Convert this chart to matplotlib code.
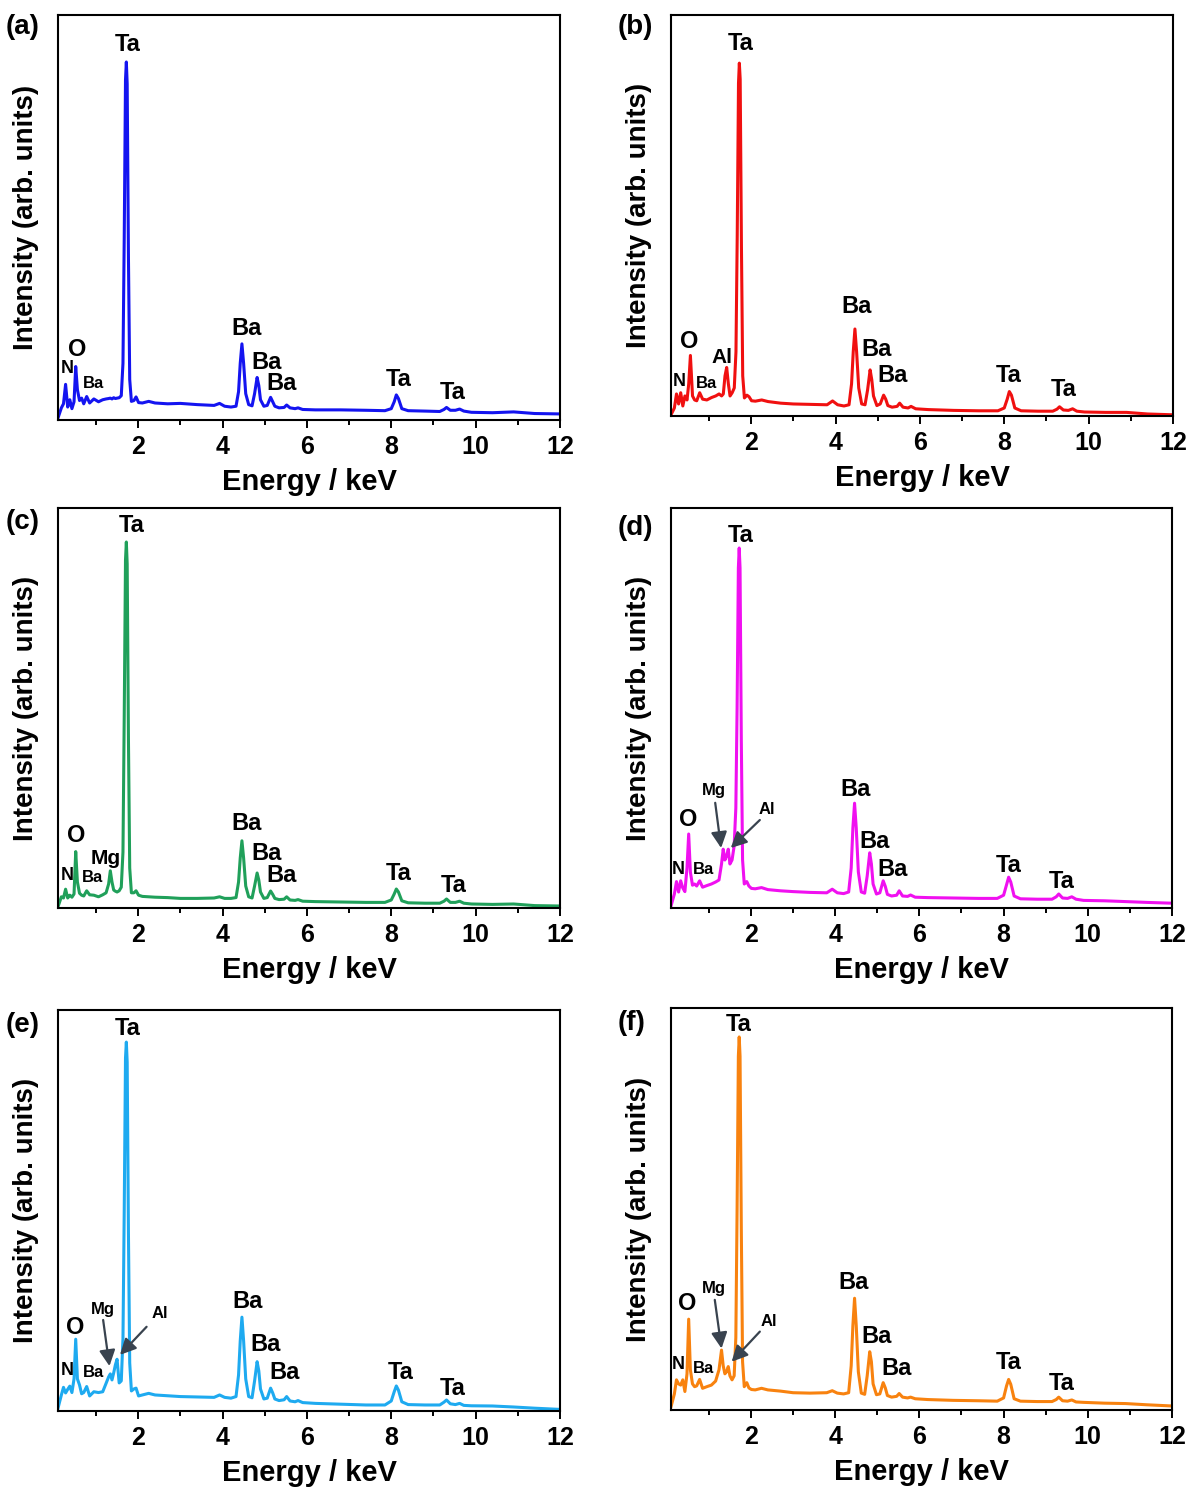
import matplotlib
matplotlib.use('Agg')
import matplotlib.pyplot as plt

plt.rcParams['font.family'] = ['Liberation Sans', 'DejaVu Sans']
plt.rcParams['font.weight'] = 'bold'

# energy grid (keV) shared by all spectra
energy = [0.10, 0.18, 0.23, 0.28, 0.33, 0.38, 0.43, 0.48, 0.52, 0.56, 0.61, 0.66, 0.71, 0.78,
          0.85, 0.95, 1.06, 1.16, 1.24, 1.30, 1.34, 1.38, 1.42, 1.46, 1.50, 1.55, 1.60, 1.64,
          1.67, 1.70, 1.72, 1.74, 1.77, 1.80, 1.84, 1.90, 1.95, 2.01, 2.10, 2.25, 2.40,
          2.70, 3.00, 3.40, 3.80, 3.93, 4.05, 4.20, 4.32, 4.38, 4.42, 4.46, 4.50, 4.55,
          4.62, 4.70, 4.76, 4.82, 4.86, 4.90, 4.98, 5.06, 5.14, 5.19, 5.24, 5.34, 5.46,
          5.52, 5.60, 5.72, 5.79, 5.90, 6.20, 6.80, 7.40, 7.85, 8.00, 8.07, 8.12, 8.17,
          8.25, 8.40, 8.80, 9.15, 9.25, 9.31, 9.40, 9.52, 9.62, 9.72, 9.90, 10.40, 10.90, 11.40, 12.00]

# intensities (arb. units)
int_a = [0.5, 3.0, 4.0, 8.8, 3.2, 5.0, 2.8, 4.5, 13.2, 7.5, 4.8, 5.4, 4.0, 5.8,
         4.2, 5.2, 4.5, 5.0, 5.2, 5.3, 5.4, 5.2, 5.5, 5.3, 5.4, 5.5, 6.0, 14.0,
         45.0, 84.0, 88.4, 83.0, 40.0, 10.0, 4.6, 4.8, 5.7, 4.3, 4.2, 4.6, 4.2,
         4.0, 4.1, 3.8, 3.6, 4.1, 3.4, 3.2, 3.4, 7.0, 14.0, 18.8, 14.0, 6.5,
         3.8, 3.5, 6.5, 10.5, 8.5, 5.0, 3.4, 3.6, 5.6, 4.5, 3.4, 3.0, 3.1,
         3.7, 3.0, 2.8, 3.0, 2.6, 2.5, 2.5, 2.4, 2.3, 2.8, 4.5, 6.2, 5.3,
         2.8, 2.3, 2.2, 2.1, 2.6, 3.1, 2.4, 2.4, 2.7, 2.2, 1.9, 1.8, 2.0, 1.6, 1.5]

int_b = [0.3, 2.0, 5.5, 3.0, 5.8, 2.5, 5.0, 4.0, 8.0, 15.1, 5.0, 4.0, 3.8, 5.8,
         4.2, 4.0, 4.6, 5.0, 5.5, 5.0, 5.5, 10.0, 12.1, 8.0, 5.0, 5.8, 7.0, 16.0,
         45.0, 83.0, 88.0, 84.0, 42.0, 10.0, 4.5, 5.2, 4.8, 3.8, 3.7, 4.0, 3.6,
         3.2, 3.0, 2.9, 2.8, 3.75, 2.8, 2.5, 2.8, 8.0, 16.0, 21.7, 16.0, 7.0,
         3.0, 2.8, 6.5, 11.5, 9.0, 5.0, 2.6, 3.0, 5.2, 4.2, 2.6, 2.2, 2.4,
         3.2, 2.2, 2.0, 2.4, 1.8, 1.6, 1.4, 1.3, 1.3, 2.0, 4.2, 6.1, 5.2,
         2.0, 1.3, 1.2, 1.2, 1.7, 2.3, 1.5, 1.4, 1.8, 1.2, 1.0, 0.9, 0.9, 0.5, 0.3]

int_c = [0.3, 2.8, 2.5, 4.7, 2.5, 3.2, 2.7, 3.5, 14.1, 6.5, 3.7, 3.2, 3.0, 4.3,
         3.3, 3.2, 2.8, 3.3, 3.8, 6.0, 9.3, 6.5, 4.5, 4.2, 4.0, 4.3, 5.2, 14.0,
         48.0, 87.0, 91.5, 86.0, 42.0, 10.0, 3.8, 3.8, 4.3, 3.2, 2.9, 2.8, 2.7,
         2.6, 2.4, 2.4, 2.5, 2.8, 2.4, 2.4, 2.6, 6.5, 12.5, 16.8, 12.5, 5.5,
         2.8, 2.5, 5.5, 8.75, 7.0, 4.0, 2.4, 2.6, 4.25, 3.4, 2.4, 2.1, 2.2,
         2.8, 2.0, 1.9, 2.1, 1.7, 1.6, 1.5, 1.4, 1.4, 2.0, 3.5, 4.75, 4.0,
         1.8, 1.3, 1.2, 1.2, 1.7, 2.25, 1.4, 1.4, 1.7, 1.2, 1.0, 0.9, 1.0, 0.6, 0.5]

int_d = [0.5, 3.5, 6.6, 4.0, 6.8, 5.0, 4.1, 10.0, 18.5, 9.0, 5.7, 6.0, 5.5, 6.8,
         5.2, 5.6, 6.0, 6.5, 7.0, 11.0, 14.7, 12.0, 13.0, 14.7, 11.0, 12.0, 15.5, 25.0,
         50.0, 85.0, 90.0, 85.0, 42.0, 12.0, 6.0, 6.6, 5.5, 4.9, 4.8, 5.1, 4.6,
         4.3, 4.1, 3.9, 3.8, 4.7, 3.8, 3.6, 4.0, 10.0, 20.0, 26.2, 20.0, 9.0,
         4.0, 3.7, 8.0, 13.8, 11.0, 6.0, 3.5, 3.8, 6.8, 5.4, 3.4, 3.0, 3.2,
         4.3, 3.0, 2.9, 3.25, 2.7, 2.6, 2.5, 2.4, 2.4, 3.2, 5.8, 7.7, 6.5,
         3.0, 2.3, 2.2, 2.2, 2.8, 3.5, 2.5, 2.4, 2.8, 2.2, 1.9, 1.8, 1.6, 1.4, 1.2]

int_e = [0.7, 4.0, 5.9, 4.5, 5.4, 6.2, 4.6, 8.0, 17.9, 8.0, 6.5, 4.3, 4.6, 6.1,
         3.75, 4.8, 4.6, 4.8, 6.9, 8.5, 9.25, 7.75, 9.5, 11.5, 12.9, 7.0, 7.5, 18.0,
         50.0, 88.0, 92.0, 87.0, 44.0, 12.0, 5.0, 5.5, 5.7, 3.75, 4.0, 4.4, 4.0,
         3.8, 3.6, 3.5, 3.4, 4.0, 3.4, 3.2, 3.6, 9.0, 17.5, 23.4, 17.5, 8.0,
         3.6, 3.3, 7.5, 12.3, 10.0, 5.5, 3.0, 3.2, 5.7, 4.5, 3.0, 2.6, 2.8,
         3.6, 2.5, 2.3, 2.6, 2.1, 1.9, 1.7, 1.5, 1.5, 2.5, 4.8, 6.25, 5.2,
         2.3, 1.6, 1.5, 1.5, 2.2, 2.75, 1.8, 1.6, 1.9, 1.4, 1.3, 1.25, 1.0, 0.7, 0.4]

int_f = [0.8, 4.0, 7.5, 6.5, 6.2, 7.5, 4.6, 9.0, 22.6, 10.0, 6.5, 5.8, 6.0, 7.6,
         5.4, 5.8, 6.2, 7.2, 10.0, 14.9, 11.0, 9.0, 9.5, 10.8, 8.5, 7.5, 8.5, 18.0,
         50.0, 88.0, 92.8, 88.0, 45.0, 12.0, 5.8, 6.8, 5.5, 5.1, 5.0, 5.4, 5.0,
         4.7, 4.3, 4.2, 4.3, 4.8, 4.2, 4.0, 4.3, 11.0, 21.0, 27.8, 21.0, 9.5,
         4.2, 3.9, 8.5, 14.5, 12.0, 6.5, 3.8, 4.0, 6.8, 5.5, 3.6, 3.2, 3.4,
         4.1, 3.2, 3.0, 3.2, 2.8, 2.6, 2.4, 2.3, 2.2, 3.0, 6.0, 7.6, 6.4,
         2.8, 2.2, 2.1, 2.1, 2.6, 3.2, 2.3, 2.2, 2.5, 2.0, 1.9, 1.7, 1.6, 1.3, 1.0]

colors = ['#1414f0', '#f01010', '#20a05a', '#f010f0', '#1eaaf0', '#f8820f']
panel_tags = ['(a)', '(b)', '(c)', '(d)', '(e)', '(f)']

# peak labels: (text, energy, height, fontsize)
labels_a = [('Ta', 1.76, 92.8, 17), ('O', 0.55, 17.5, 17), ('N', 0.31, 12.6, 13), ('Ba', 0.93, 8.9, 12),
            ('Ba', 4.58, 22.5, 17), ('Ba', 5.05, 14.3, 17), ('Ba', 5.41, 8.9, 17),
            ('Ta', 8.18, 9.9, 17), ('Ta', 9.46, 6.7, 17)]
labels_b = [('Ta', 1.76, 93.0, 17), ('O', 0.53, 18.5, 17), ('Al', 1.32, 14.7, 15), ('N', 0.29, 8.7, 13),
            ('Ba', 0.93, 8.2, 12), ('Ba', 4.49, 27.2, 17), ('Ba', 4.98, 16.7, 17), ('Ba', 5.36, 10.0, 17),
            ('Ta', 8.11, 10.2, 17), ('Ta', 9.42, 6.5, 17)]
labels_c = [('Ta', 1.85, 95.5, 17), ('O', 0.53, 18.25, 17), ('Mg', 1.24, 12.25, 15), ('N', 0.31, 8.0, 13),
            ('Ba', 0.91, 7.75, 12), ('Ba', 4.58, 21.0, 17), ('Ba', 5.05, 13.75, 17), ('Ba', 5.41, 8.0, 17),
            ('Ta', 8.18, 8.75, 17), ('Ta', 9.49, 5.5, 17)]
labels_d = [('Ta', 1.76, 93.0, 17), ('O', 0.50, 22.25, 17), ('Mg', 1.12, 29.5, 12), ('Al', 2.38, 24.5, 12),
            ('N', 0.27, 9.75, 13), ('Ba', 0.88, 9.5, 12), ('Ba', 4.49, 29.75, 17), ('Ba', 4.94, 16.75, 17),
            ('Ba', 5.36, 9.75, 17), ('Ta', 8.11, 10.75, 17), ('Ta', 9.39, 6.5, 17)]
labels_e = [('Ta', 1.76, 95.3, 17), ('O', 0.50, 20.9, 17), ('Mg', 1.17, 25.4, 12), ('Al', 2.52, 24.2, 12),
            ('N', 0.31, 10.2, 13), ('Ba', 0.95, 9.7, 12), ('Ba', 4.60, 27.2, 17), ('Ba', 5.03, 16.5, 17),
            ('Ba', 5.48, 9.5, 17), ('Ta', 8.23, 9.7, 17), ('Ta', 9.46, 5.7, 17)]
labels_f = [('Ta', 1.71, 96.0, 17), ('O', 0.48, 26.4, 17), ('Mg', 1.12, 30.3, 12), ('Al', 2.42, 21.9, 12),
            ('N', 0.27, 11.2, 13), ('Ba', 0.88, 10.4, 12), ('Ba', 4.44, 31.8, 17), ('Ba', 4.98, 18.2, 17),
            ('Ba', 5.46, 10.2, 17), ('Ta', 8.11, 11.9, 17), ('Ta', 9.39, 6.5, 17)]

# arrows: (tail energy, tail height, tip energy, tip height)
arrows_d = [(1.15, 26.3, 1.29, 15.0), (2.21, 22.0, 1.52, 15.0)]
arrows_e = [(1.17, 22.7, 1.32, 11.2), (2.20, 21.0, 1.57, 14.0)]
arrows_f = [(1.14, 27.4, 1.30, 15.3), (2.21, 19.5, 1.54, 12.0)]

spectra = [int_a, int_b, int_c, int_d, int_e, int_f]
labels = [labels_a, labels_b, labels_c, labels_d, labels_e, labels_f]
arrows = [[], [], [], arrows_d, arrows_e, arrows_f]

W, H = 1193, 1497
# axes boxes in pixels: left, top, right, bottom
boxes = [(58, 15, 560, 420), (671, 15, 1173, 416),
         (58, 508, 560, 908), (671, 508, 1172, 908),
         (58, 1010, 560, 1411), (671, 1008, 1172, 1410)]
tag_pos = [(6, 27), (618, 27), (6, 522), (618, 528), (6, 1025), (618, 1023)]

fig = plt.figure(figsize=(W / 100, H / 100), dpi=100)

for i in range(6):
    l, t, r, b = boxes[i]
    ax = fig.add_axes([l / W, 1 - b / H, (r - l) / W, (b - t) / H])
    ax.plot(energy, spectra[i], color=colors[i], lw=2.2, solid_joinstyle='round')
    ax.set_xlim(0.1, 12)
    ax.set_ylim(0, 100)
    ax.set_xticks([2, 4, 6, 8, 10, 12])
    ax.set_xticks([1, 3, 5, 7, 9, 11], minor=True)
    ax.set_yticks([])
    ax.tick_params(axis='x', which='major', direction='out', length=6, width=1.4,
                   labelsize=18, pad=5)
    ax.tick_params(axis='x', which='minor', direction='out', length=3.5, width=1.4)
    for lab in ax.get_xticklabels():
        lab.set_fontweight('bold')
    for sp in ax.spines.values():
        sp.set_linewidth(1.5)
    ax.set_xlabel('Energy / keV', fontsize=21, fontweight='bold', labelpad=6)
    ax.set_ylabel('Intensity (arb. units)', fontsize=20, fontweight='bold', labelpad=14)

    for txt, x, y, fs in labels[i]:
        ax.text(x, y, txt, fontsize=fs, fontweight='bold', ha='center', va='center')
    for x0, y0, x1, y1 in arrows[i]:
        ax.annotate('', xy=(x1, y1), xytext=(x0, y0),
                    arrowprops=dict(arrowstyle='-|>', color='#39434f', lw=1.6,
                                    mutation_scale=24, shrinkA=0, shrinkB=0))

    tx, ty = tag_pos[i]
    fig.text(tx / W, 1 - ty / H, panel_tags[i], fontsize=20, fontweight='bold',
             ha='left', va='center')

fig.savefig('out.png', dpi=100)
